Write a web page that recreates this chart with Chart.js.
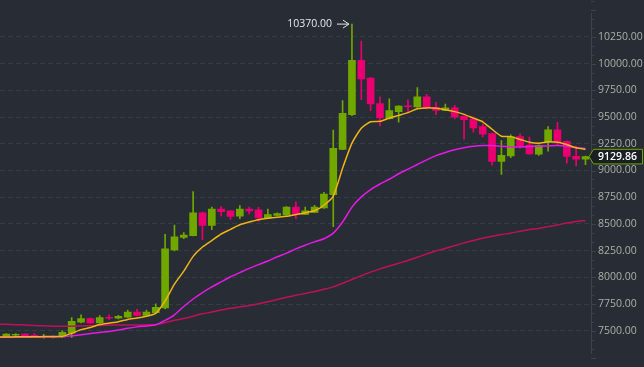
<!DOCTYPE html>
<html>
<head>
<meta charset="utf-8">
<script src="https://cdn.jsdelivr.net/npm/chart.js@4.4.1/dist/chart.umd.min.js"></script>
<style>
html, body { margin: 0; padding: 0; background: #272c35; overflow: hidden; }
#wrap { width: 644px; height: 367px; position: relative; }
</style>
</head>
<body>
<div id="wrap"><canvas id="chart"></canvas></div>
<script>
// candles
const opens  = [7444,7459,7469,7459,7439,7439,7444,7477,7581,7615,7575,7624,7618,7627,7676,7644,7670,7714,8258,8373,8391,8605,8486,8640,8622,8573,8640,8631,8556,8579,8585,8657,8590,8608,8649,8773,9198,9523,10031,9864,9627,9486,9550,9603,9594,9690,9592,9563,9586,9508,9482,9411,9346,9085,9137,9317,9239,9152,9265,9380,9273,9132,9106]
const highs  = [7475,7475,7472,7474,7468,7450,7503,7624,7650,7620,7642,7650,7645,7694,7700,7694,7752,8403,8490,8420,8802,8610,8657,8663,8625,8672,8657,8655,8640,8605,8662,8707,8657,8675,8796,9378,9655,10370,10211,9870,9690,9670,9608,9662,9777,9714,9638,9621,9609,9512,9502,9436,9350,9280,9334,9343,9314,9240,9412,9450,9278,9228,9135]
const lows   = [7438,7445,7444,7437,7431,7434,7440,7439,7575,7566,7570,7607,7612,7622,7640,7640,7665,7705,8247,8362,8388,8353,8446,8576,8542,8550,8594,8527,8553,8575,8583,8550,8587,8605,8646,8475,9195,9514,9662,9560,9418,9480,9453,9540,9590,9580,9523,9560,9482,9293,9358,9314,9050,8964,9120,9210,9150,9141,9181,9233,9068,9042,9054]
const closes = [7469,7466,7448,7444,7448,7444,7486,7589,7615,7575,7624,7618,7635,7676,7644,7676,7720,8267,8379,8397,8605,8486,8640,8616,8570,8640,8622,8556,8588,8596,8657,8590,8622,8657,8779,9207,9534,10031,9858,9623,9493,9560,9603,9597,9690,9586,9563,9586,9502,9476,9398,9340,9085,9143,9317,9230,9155,9236,9380,9267,9132,9106,9129.86]

// moving averages, first value belongs to the candle just left of the view
const maStart = -1
const ma7  = [7442,7442,7444,7445,7445,7446,7447,7448,7477,7511,7531,7559,7572,7585,7607,7620,7636,7663,7780,7937,8058,8197,8284,8345,8406,8449,8492,8518,8540,8553,8562,8571,8588,8605,8623,8675,8761,9022,9256,9395,9456,9460,9490,9516,9542,9577,9586,9582,9569,9551,9525,9490,9456,9386,9321,9317,9291,9265,9256,9269,9265,9243,9213,9198]
const ma25 = [7439,7439,7439,7440,7442,7442,7443,7446,7453,7463,7474,7485,7494,7507,7524,7537,7546,7557,7598,7650,7728,7798,7858,7911,7958,8006,8045,8084,8119,8153,8193,8227,8267,8301,8332,8362,8414,8518,8657,8753,8822,8874,8918,8970,9013,9056,9100,9139,9169,9195,9213,9226,9233,9234,9226,9221,9221,9224,9228,9230,9234,9228,9213,9207]
const ma99 = [7562,7561,7558,7554,7550,7547,7544,7543,7544,7546,7548,7551,7553,7555,7555,7555,7556,7558,7576,7598,7615,7637,7659,7676,7694,7711,7724,7737,7754,7772,7793,7815,7832,7850,7867,7889,7911,7945,7980,8015,8049,8080,8106,8132,8158,8188,8219,8249,8271,8297,8323,8345,8366,8384,8401,8414,8432,8449,8458,8475,8490,8508,8522,8531]

// price axis labels
const priceTicks = [7500,7750,8000,8250,8500,8750,9000,9250,9500,9750,10000,10250]

const UP = '#70a800'
const DOWN = '#ea0070'
const candleColors = opens.map((o, i) => closes[i] >= o ? UP : DOWN)

const maLine = (arr, color) => ({
    type: 'line',
    data: arr.map((v, k) => ({ x: k + maStart, y: v })),
    borderColor: color,
    borderWidth: 1.5,
    pointRadius: 0,
    tension: 0.2,
    order: 0
})

// minor ticks on the price axis (3 per label step)
const axisTicks = {
    id: 'axisTicks',
    afterDraw(chart) {
        const ctx = chart.ctx, ys = chart.scales.y, right = chart.chartArea.right
        const step = priceTicks[1] - priceTicks[0]
        ctx.save()
        ctx.strokeStyle = '#3d434d'
        ctx.lineWidth = 1
        ctx.beginPath()
        for (let k = -3; k <= priceTicks.length * 3 + 3; k++) {
            const py = Math.round(ys.getPixelForValue(priceTicks[0] + k * step / 3)) + 0.5
            if (py < 0 || py > chart.height) continue
            ctx.moveTo(right, py)
            ctx.lineTo(right + (k % 3 === 0 ? 5 : 3), py)
        }
        ctx.stroke()
        ctx.restore()
    }
}

// "10370.00 ->" marker at the highest wick
const highMark = {
    id: 'highMark',
    afterDatasetsDraw(chart) {
        const ctx = chart.ctx
        let hi = 0
        highs.forEach((h, i) => { if (h > highs[hi]) hi = i })
        const px = chart.scales.x.getPixelForValue(hi)
        const py = chart.scales.y.getPixelForValue(highs[hi])
        ctx.save()
        ctx.fillStyle = '#e6e8ea'
        ctx.font = '10.5px "Open Sans"'
        ctx.textAlign = 'right'
        ctx.textBaseline = 'middle'
        ctx.fillText(highs[hi].toFixed(2), px - 20, py)
        ctx.strokeStyle = '#e6e8ea'
        ctx.lineWidth = 1
        ctx.beginPath()
        ctx.moveTo(px - 15, py)
        ctx.lineTo(px - 3, py)
        ctx.moveTo(px - 9, py - 4)
        ctx.lineTo(px - 3, py)
        ctx.lineTo(px - 9, py + 4)
        ctx.stroke()
        ctx.restore()
    }
}

// last price tag on the axis
const priceTag = {
    id: 'priceTag',
    afterDraw(chart) {
        const ctx = chart.ctx, right = chart.chartArea.right
        const last = closes[closes.length - 1]
        const py = chart.scales.y.getPixelForValue(last)
        ctx.save()
        ctx.beginPath()
        ctx.moveTo(right - 2, py)
        ctx.lineTo(right + 2.5, py - 7.3)
        ctx.lineTo(right + 51.5, py - 7.3)
        ctx.lineTo(right + 51.5, py + 7.3)
        ctx.lineTo(right + 2.5, py + 7.3)
        ctx.closePath()
        ctx.fillStyle = '#1b1f24'
        ctx.fill()
        ctx.strokeStyle = UP
        ctx.lineWidth = 1
        ctx.stroke()
        ctx.fillStyle = '#ffffff'
        ctx.font = '600 10.5px "Open Sans"'
        ctx.textBaseline = 'middle'
        ctx.fillText(last.toFixed(2), right + 7, py + 0.5)
        ctx.restore()
    }
}

new Chart(document.getElementById('chart'), {
    type: 'bar',
    data: {
        datasets: [
            maLine(ma7, '#f0b416'),
            maLine(ma25, '#e619e6'),
            maLine(ma99, '#c0105c'),
            {
                data: lows.map((l, i) => ({ x: i, y: [l, highs[i]] })),
                backgroundColor: candleColors,
                barThickness: 1,
                grouped: false,
                order: 2
            },
            {
                data: opens.map((o, i) => ({ x: i, y: [o, closes[i]] })),
                backgroundColor: candleColors,
                barThickness: 7,
                minBarLength: 1,
                grouped: false,
                order: 1
            }
        ]
    },
    options: {
        responsive: true,
        maintainAspectRatio: false,
        animation: false,
        layout: { padding: 0 },
        plugins: { legend: { display: false }, tooltip: { enabled: false } },
        scales: {
            x: { type: 'linear', min: -0.674, max: 62.59, offset: false, bounds: 'data', display: false },
            y: {
                position: 'right',
                min: 7286,
                max: 10471,
                bounds: 'data',
                grid: { color: '#363c46', drawTicks: false },
                border: { display: true, color: '#3d434d', dash: [5, 3] },
                ticks: {
                    color: '#acb0a6',
                    font: { family: 'Open Sans', size: 10.5 },
                    padding: 7,
                    callback: v => v.toFixed(2)
                },
                afterBuildTicks: s => { s.ticks = priceTicks.map(v => ({ value: v })) },
                afterFit: s => { s.width = 53 }
            }
        }
    },
    plugins: [axisTicks, highMark, priceTag]
})
</script>
</body>
</html>
